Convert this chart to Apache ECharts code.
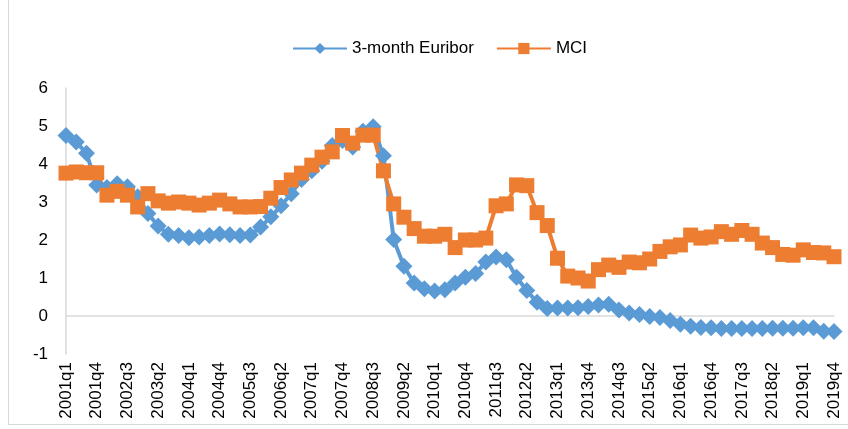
<!DOCTYPE html>
<html>
<head>
<meta charset="utf-8">
<script src="https://cdn.jsdelivr.net/npm/echarts@6/dist/echarts.min.js"></script>
<style>
  body{margin:0;background:#fff}
  #frame{position:absolute;left:8px;top:-1px;width:848px;height:426px;border:1px solid #d9d9d9;box-sizing:border-box}
  #main{position:absolute;left:0;top:0;width:848px;height:429px}
</style>
</head>
<body>
<div id="frame"></div>
<div id="main"></div>
<script>
// quarters 2001q1 .. 2019q4
const quarters = []
for (let y = 2001; y <= 2019; y++) {
  for (let q = 1; q <= 4; q++) quarters.push(y + 'q' + q)
}

const euribor = [
  4.75, 4.58, 4.28, 3.45, 3.38, 3.48, 3.40, 3.14, 2.70, 2.37, 2.15, 2.12,
  2.06, 2.08, 2.12, 2.16, 2.14, 2.12, 2.13, 2.34, 2.61, 2.90, 3.22, 3.59,
  3.82, 4.07, 4.49, 4.62, 4.45, 4.86, 4.98, 4.22, 2.01, 1.31, 0.87, 0.72,
  0.66, 0.69, 0.87, 1.02, 1.12, 1.42, 1.55, 1.48, 1.02, 0.67, 0.36, 0.20,
  0.21, 0.21, 0.22, 0.25, 0.29, 0.31, 0.16, 0.08, 0.04, -0.01, -0.04, -0.12,
  -0.22, -0.27, -0.30, -0.31, -0.33, -0.33, -0.33, -0.33, -0.33, -0.32, -0.32, -0.32,
  -0.31, -0.31, -0.40, -0.41
]

const mci = [
  3.76, 3.79, 3.77, 3.77, 3.18, 3.28, 3.18, 2.87, 3.22, 3.03, 2.97, 3.00,
  2.97, 2.92, 2.97, 3.05, 2.95, 2.87, 2.87, 2.88, 3.10, 3.38, 3.58, 3.76,
  3.97, 4.18, 4.32, 4.75, 4.55, 4.76, 4.76, 3.82, 2.95, 2.60, 2.30, 2.10,
  2.10, 2.15, 1.80, 2.00, 2.00, 2.05, 2.90, 2.95, 3.45, 3.43, 2.72, 2.38,
  1.52, 1.05, 1.00, 0.92, 1.22, 1.34, 1.28, 1.42, 1.40, 1.50, 1.70, 1.82,
  1.87, 2.13, 2.05, 2.08, 2.22, 2.15, 2.25, 2.15, 1.92, 1.80, 1.62, 1.60,
  1.74, 1.67, 1.66, 1.56
]

const yTicks = { min: -1, max: 6, interval: 1 }

const fontFamily = '"Liberation Sans", Arial, sans-serif'

let myChart = echarts.init(document.getElementById('main'))

let option = {
  animation: false,
  textStyle: { fontFamily: fontFamily },
  legend: {
    top: 35,
    left: 287,
    itemWidth: 54,
    itemHeight: 14,
    itemGap: 22,
    textStyle: { fontSize: 17, color: '#000', fontFamily: fontFamily },
    data: ['3-month Euribor', 'MCI']
  },
  grid: {
    left: 66,
    right: 14,
    top: 88,
    height: 266
  },
  xAxis: {
    type: 'category',
    data: quarters,
    boundaryGap: false,
    axisLine: { onZero: true, lineStyle: { color: '#d9d9d9', width: 1.5 } },
    axisTick: { show: false },
    axisLabel: {
      interval: 2,
      rotate: 90,
      fontSize: 17,
      color: '#000',
      margin: 8
    }
  },
  yAxis: {
    type: 'value',
    min: yTicks.min,
    max: yTicks.max,
    interval: yTicks.interval,
    axisLine: { show: true, lineStyle: { color: '#d9d9d9', width: 1.5 } },
    axisTick: { show: false },
    splitLine: { show: false },
    axisLabel: { fontSize: 17, color: '#000', margin: 18 }
  },
  series: [
    {
      name: '3-month Euribor',
      type: 'line',
      data: euribor,
      symbol: 'diamond',
      symbolSize: 17,
      showAllSymbol: true,
      color: '#5b9bd5',
      lineStyle: { width: 4, color: '#5b9bd5' },
      itemStyle: { color: '#5b9bd5' }
    },
    {
      name: 'MCI',
      type: 'line',
      data: mci,
      symbol: 'rect',
      symbolSize: 15,
      showAllSymbol: true,
      color: '#ed7d31',
      lineStyle: { width: 4, color: '#ed7d31' },
      itemStyle: { color: '#ed7d31' }
    }
  ]
}

myChart.setOption(option)
</script>
</body>
</html>
